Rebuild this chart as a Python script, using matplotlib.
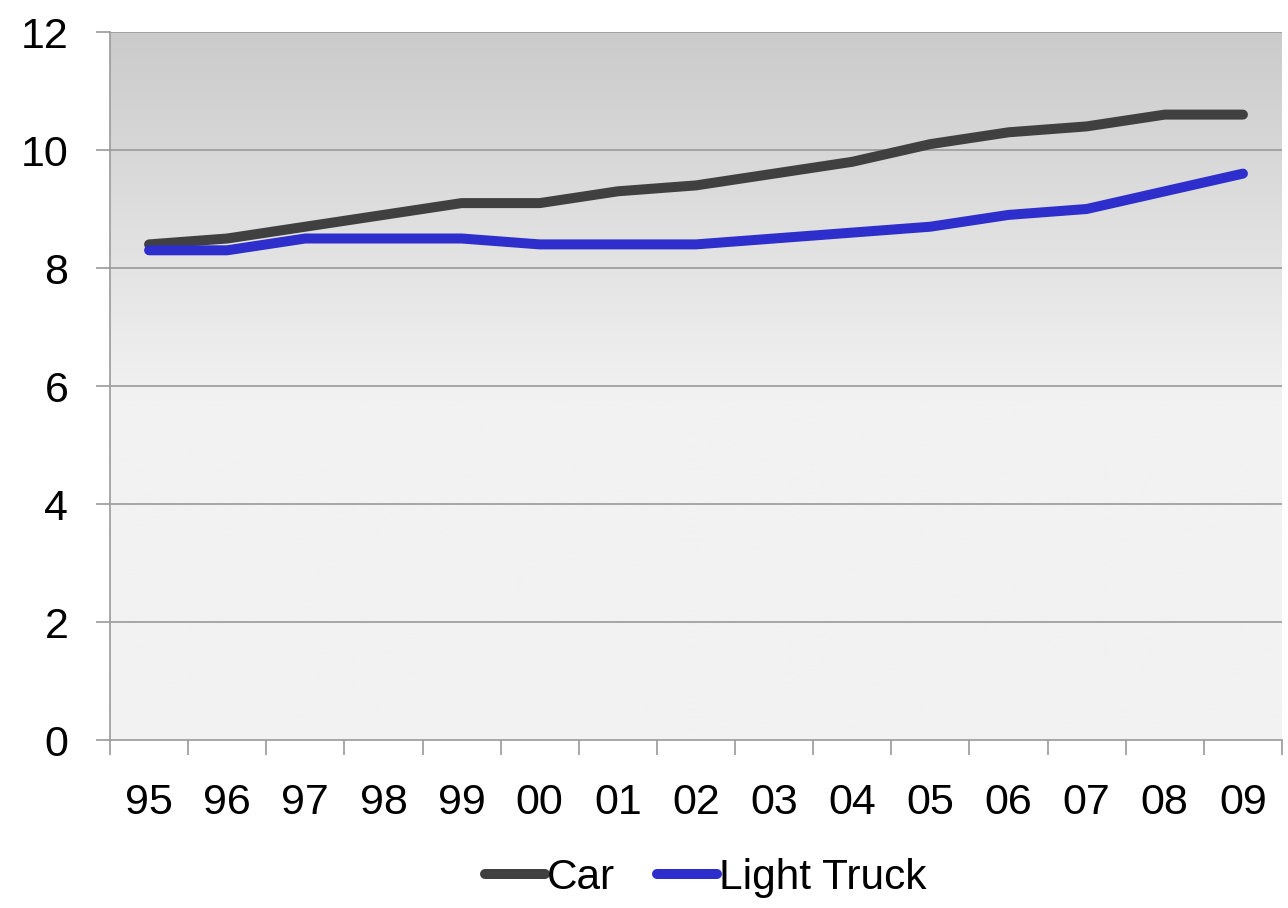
import numpy as np
import matplotlib
matplotlib.use("Agg")
import matplotlib.pyplot as plt
from matplotlib.colors import LinearSegmentedColormap

years = ["95", "96", "97", "98", "99", "00", "01", "02", "03", "04", "05", "06", "07", "08", "09"]
car = [8.4, 8.5, 8.7, 8.9, 9.1, 9.1, 9.3, 9.4, 9.6, 9.8, 10.1, 10.3, 10.4, 10.6, 10.6]
light_truck = [8.3, 8.3, 8.5, 8.5, 8.5, 8.4, 8.4, 8.4, 8.5, 8.6, 8.7, 8.9, 9.0, 9.3, 9.6]
y_ticks = [0, 2, 4, 6, 8, 10, 12]

plt.rcParams["font.family"] = ["Liberation Sans", "DejaVu Sans"]

fig = plt.figure(figsize=(12.88, 9.08), dpi=100)
ax = fig.add_axes([110 / 1288, 168 / 908, 1172 / 1288, 708 / 908])

n = len(years)
x = np.arange(n)
ax.set_xlim(-0.5, n - 0.5)
ax.set_ylim(0, 12)

# plot-area background: grey at the top fading to light grey, flat in the lower half
grad = np.linspace(0, 1, 256)
vals = np.clip(grad / 0.52, 0, 1)
cmap = LinearSegmentedColormap.from_list("bg", ["#cbcbcb", "#f2f2f2"])
img = cmap(vals)[:, None, :]
ax.imshow(img, extent=[0, 1, 0, 1], transform=ax.transAxes, aspect="auto",
          origin="upper", zorder=0, interpolation="bilinear")

for yv in y_ticks[1:]:
    ax.axhline(yv, color="#9a9a9a", lw=1.2, zorder=1)

ax.plot(x, car, color="#404040", lw=7.2, solid_capstyle="round",
        solid_joinstyle="round", zorder=3, label="Car")
ax.plot(x, light_truck, color="#2e2ecc", lw=7.2, solid_capstyle="round",
        solid_joinstyle="round", zorder=3, label="Light Truck")

for s in ["top", "right"]:
    ax.spines[s].set_visible(False)
ax.spines["left"].set_color("#9a9a9a")
ax.spines["bottom"].set_color("#9a9a9a")
ax.spines["left"].set_linewidth(1.2)
ax.spines["bottom"].set_linewidth(1.2)

ax.set_yticks(y_ticks)
ax.set_yticklabels([str(v) for v in y_ticks])
ax.tick_params(axis="y", length=10, width=1.2, color="#9a9a9a", pad=20,
               labelsize=31, labelcolor="black")

ax.set_xticks(x)
ax.set_xticklabels(years)
ax.tick_params(axis="x", length=0, pad=31, labelsize=31, labelcolor="black")
ax.set_xticks(np.arange(n + 1) - 0.5, minor=True)
ax.tick_params(axis="x", which="minor", length=11, width=1.2, color="#9a9a9a")

leg = fig.legend(loc="center", bbox_to_anchor=(0.548, 1 - 878 / 908), ncol=2,
                 frameon=False, fontsize=30.5, handlelength=1.4, handletextpad=0.05,
                 columnspacing=1.0)

fig.savefig("out.png", dpi=100, facecolor="white")
